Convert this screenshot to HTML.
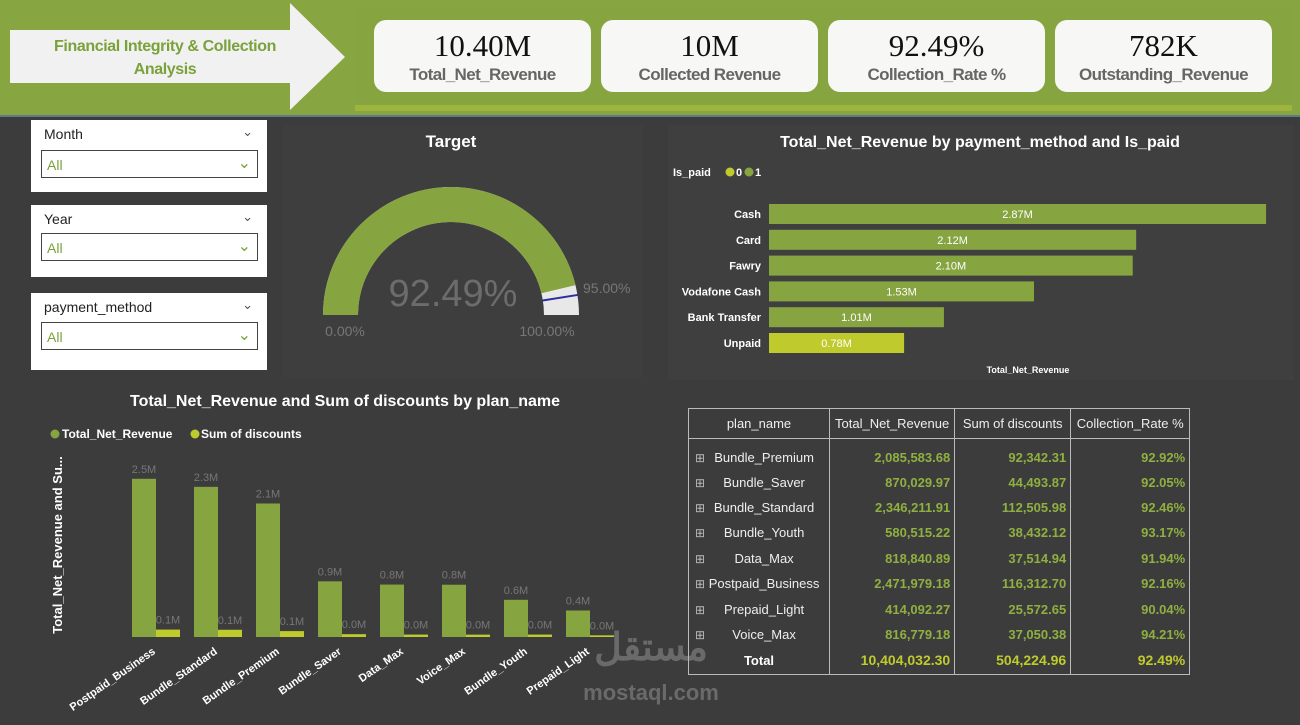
<!DOCTYPE html>
<html><head><meta charset="utf-8">
<style>
*{margin:0;padding:0;box-sizing:border-box}
body{width:1300px;height:725px;overflow:hidden;background:#3d3c3d;font-family:"Liberation Sans",sans-serif;position:relative}
.abs{position:absolute}
.kpi{position:absolute;top:20px;width:217px;height:72px;background:#f7f8f5;border-radius:12px;text-align:center}
.kpi .v{font-family:"Liberation Serif",serif;font-size:31px;color:#111;margin-top:8px;line-height:36px}
.kpi .l{font-size:17px;color:#666;font-weight:bold;line-height:22px;letter-spacing:-0.6px}
.slicer{position:absolute;left:31px;width:236px;background:#fff}
.slicer .t{position:absolute;left:13px;top:6px;font-size:14px;color:#222}
.slicer .c1{position:absolute;right:14px;top:4px;color:#555;font-size:13px}
.slicer .dd{position:absolute;left:10px;width:217px;height:28px;border:1px solid #444;color:#7aa23a;font-size:14px;padding:6px 5px}
.slicer .dd span{position:absolute;right:6px;top:2px;color:#7aa23a;font-size:16px}
table{border-collapse:collapse;position:absolute;left:688px;top:408px;font-size:13px;color:#eee}
td,th{border:1px solid #bbb}
th{font-weight:normal;height:30px;padding:0 5px}
tbody td{height:25.4px}
td.n{text-align:right;color:#8fb040;font-weight:bold;padding-right:4px}
tbody td{border-top:none;border-bottom:none}
</style></head><body>
<div class="abs" style="left:0;top:0;width:1300px;height:117px;background:#87a641;border-bottom:2px solid #5f7a8a"></div>
<div class="abs" style="left:355px;top:8px;width:937px;height:103px;background:#86a43f;border-bottom:6px solid #9db53c"></div>
<svg class="abs" style="left:0;top:0" width="350" height="117">
<polygon points="10,30 290,30 290,3 345,57 290,110 290,83 10,83" fill="#f1f1f1"/>
</svg>
<div class="abs" style="left:15px;top:35px;width:300px;text-align:center;color:#7aa23a;font-weight:bold;font-size:16px;line-height:23px;letter-spacing:-0.4px">Financial Integrity &amp; Collection<br>Analysis</div>

<div class="kpi" style="left:374px"><div class="v">10.40M</div><div class="l">Total_Net_Revenue</div></div>
<div class="kpi" style="left:601px"><div class="v">10M</div><div class="l">Collected Revenue</div></div>
<div class="kpi" style="left:828px"><div class="v">92.49%</div><div class="l">Collection_Rate %</div></div>
<div class="kpi" style="left:1055px"><div class="v">782K</div><div class="l">Outstanding_Revenue</div></div>

<div class="slicer" style="top:120px;height:72px"><div class="t">Month</div><div class="c1">&#8964;</div><div class="dd" style="top:30px">All<span>&#8964;</span></div></div>
<div class="slicer" style="top:205px;height:72px"><div class="t">Year</div><div class="c1">&#8964;</div><div class="dd" style="top:28px">All<span>&#8964;</span></div></div>
<div class="slicer" style="top:293px;height:77px"><div class="t">payment_method</div><div class="c1">&#8964;</div><div class="dd" style="top:29px">All<span>&#8964;</span></div></div>

<div class="abs" style="left:283px;top:125px;width:360px;height:253px;background:#3f3e3f"></div>
<div class="abs" style="left:668px;top:125px;width:626px;height:255px;background:#403f40"></div>
<svg class="abs" id="gauge" style="left:283px;top:125px" width="360" height="255"></svg>
<svg class="abs" id="hbar" style="left:650px;top:120px" width="650" height="265"></svg>
<svg class="abs" id="col" style="left:0;top:385px" width="660" height="340"></svg>

<div class="abs" style="left:566px;top:628px;width:170px;color:#8a8a8a;opacity:.6;font-size:38px;font-weight:bold;text-align:center;line-height:40px">مستقل<br><span style="font-size:22px;line-height:24px">mostaql.com</span></div>

<table>
<thead><tr><th style="width:141px">plan_name</th><th style="width:124px">Total_Net_Revenue</th><th style="width:116px">Sum of discounts</th><th style="width:119px">Collection_Rate %</th></tr></thead>
<tbody id="tb"></tbody>
</table>

<script>
const NS='http://www.w3.org/2000/svg';
function mk(p,tag,a,txt){const e=document.createElementNS(NS,tag);for(const k in a)e.setAttribute(k,a[k]);if(txt!=null)e.textContent=txt;p.appendChild(e);return e;}
// gauge
const gaugeValue=92.49, gaugeTarget=95, gaugeMin=0, gaugeMax=100;
const g=document.getElementById('gauge');
const cx=168,cy=190,R=128,r=93;
function ang(v){return Math.PI*(1-(v-gaugeMin)/(gaugeMax-gaugeMin));}
function arc(v0,v1,fill,name){const a0=ang(v0),a1=ang(v1);
 const d=`M${cx+R*Math.cos(a0)},${cy-R*Math.sin(a0)} A${R},${R} 0 0 1 ${cx+R*Math.cos(a1)},${cy-R*Math.sin(a1)} L${cx+r*Math.cos(a1)},${cy-r*Math.sin(a1)} A${r},${r} 0 0 0 ${cx+r*Math.cos(a0)},${cy-r*Math.sin(a0)} Z`;
 const p=mk(g,'path',{d,fill});}
arc(gaugeMin,gaugeMax,'#e8e8e8','gauge-track');
arc(gaugeMin,gaugeValue,'#86a43f','gauge-value-arc');
const at=ang(gaugeTarget);
const tl=mk(g,'line',{x1:cx+(r-1)*Math.cos(at),y1:cy-(r-1)*Math.sin(at),x2:cx+(R+1)*Math.cos(at),y2:cy-(R+1)*Math.sin(at),stroke:'#2b2fa0','stroke-width':2});

let t=mk(g,'text',{x:cx,y:22,'text-anchor':'middle',fill:'#fff','font-size':17,'font-weight':'bold'},'Target');
t=mk(g,'text',{x:cx+2,y:181,'text-anchor':'middle',fill:'#6c6c6c','font-size':38},gaugeValue.toFixed(2)+'%');
t=mk(g,'text',{x:cx-R+22,y:211,'text-anchor':'middle',fill:'#777','font-size':14},gaugeMin.toFixed(2)+'%');
t=mk(g,'text',{x:cx+R-32,y:211,'text-anchor':'middle',fill:'#777','font-size':14},gaugeMax.toFixed(2)+'%');
t=mk(g,'text',{x:cx+R+4,y:168,fill:'#777','font-size':14},gaugeTarget.toFixed(2)+'%');

// horizontal bar chart
const payMethods=['Cash','Card','Fawry','Vodafone Cash','Bank Transfer','Unpaid'];
const payValues=[2.87,2.12,2.10,1.53,1.01,0.78];
const payPaid=[1,1,1,1,1,0];
const h=document.getElementById('hbar');
const x0=119, pxPerM=173.2;
function xs(v){return x0+v*pxPerM;}
t=mk(h,'text',{x:330,y:27,'text-anchor':'middle',fill:'#fff','font-size':16,'font-weight':'bold'},'Total_Net_Revenue by payment_method and Is_paid');
t=mk(h,'text',{x:23,y:56,fill:'#fff','font-size':11,'font-weight':'bold'},'Is_paid');
let c=mk(h,'circle',{cx:80,cy:52,r:4.5,fill:'#bfcb2c'});
t=mk(h,'text',{x:86,y:56,fill:'#fff','font-size':11,'font-weight':'bold'},'0');
c=mk(h,'circle',{cx:99,cy:52,r:4.5,fill:'#86a43f'});
t=mk(h,'text',{x:105,y:56,fill:'#fff','font-size':11,'font-weight':'bold'},'1');
payMethods.forEach((m,i)=>{
 const y=84+i*25.8;
 const rc=mk(h,'rect',{x:x0,y:y,width:xs(payValues[i])-x0,height:20,fill:payPaid[i]?'#86a43f':'#bfcb2c'});
 
 const l=mk(h,'text',{x:x0-8,y:y+14,'text-anchor':'end',fill:'#fff','font-size':11,'font-weight':'bold'},m);
 
 const v=mk(h,'text',{x:(x0+xs(payValues[i]))/2,y:y+14,'text-anchor':'middle',fill:'#fff','font-size':11},payValues[i].toFixed(2)+'M');
 
});
t=mk(h,'text',{x:378,y:253,'text-anchor':'middle',fill:'#fff','font-size':9,'font-weight':'bold'},'Total_Net_Revenue');

// column chart
const plans=['Postpaid_Business','Bundle_Standard','Bundle_Premium','Bundle_Saver','Data_Max','Voice_Max','Bundle_Youth','Prepaid_Light'];
const revenue=[2.472,2.346,2.086,0.870,0.819,0.817,0.581,0.414];
const discounts=[0.116,0.113,0.092,0.044,0.038,0.037,0.038,0.026];
const col=document.getElementById('col');
const base=252, pxM=64, gx0=132, gstep=62, bw=24;
function ys(v){return base-v*pxM;}
t=mk(col,'text',{x:345,y:21,'text-anchor':'middle',fill:'#fff','font-size':16,'font-weight':'bold'},'Total_Net_Revenue and Sum of discounts by plan_name');
c=mk(col,'circle',{cx:55,cy:49,r:4.5,fill:'#86a43f'});
t=mk(col,'text',{x:62,y:53,fill:'#fff','font-size':12,'font-weight':'bold'},'Total_Net_Revenue');
c=mk(col,'circle',{cx:195,cy:49,r:4.5,fill:'#bfcb2c'});
t=mk(col,'text',{x:201,y:53,fill:'#fff','font-size':12,'font-weight':'bold'},'Sum of discounts');
t=mk(col,'text',{x:0,y:0,transform:'translate(62,160) rotate(-90)','text-anchor':'middle',fill:'#fff','font-size':13,'font-weight':'bold'},'Total_Net_Revenue and Su...');
plans.forEach((p,i)=>{
 const x=gx0+i*gstep;
 const r1=mk(col,'rect',{x:x,y:ys(revenue[i]),width:bw,height:base-ys(revenue[i]),fill:'#86a43f'});
 
 const r2=mk(col,'rect',{x:x+bw,y:ys(discounts[i]),width:bw,height:base-ys(discounts[i]),fill:'#bfcb2c'});
 
 const l1=mk(col,'text',{x:x+bw/2,y:ys(revenue[i])-6,'text-anchor':'middle',fill:'#777','font-size':11},revenue[i].toFixed(1)+'M');
 
 const l2=mk(col,'text',{x:x+bw*1.5,y:ys(discounts[i])-6,'text-anchor':'middle',fill:'#777','font-size':11},discounts[i].toFixed(1)+'M');
 
 const cl=mk(col,'text',{x:0,y:0,transform:`translate(${x+bw},${base+16}) rotate(-35)`,'text-anchor':'end',fill:'#fff','font-size':11,'font-weight':'bold'},p);
 
});

// table
const tPlans=['Bundle_Premium','Bundle_Saver','Bundle_Standard','Bundle_Youth','Data_Max','Postpaid_Business','Prepaid_Light','Voice_Max'];
const tRevenue=['2,085,583.68','870,029.97','2,346,211.91','580,515.22','818,840.89','2,471,979.18','414,092.27','816,779.18'];
const tDisc=['92,342.31','44,493.87','112,505.98','38,432.12','37,514.94','116,312.70','25,572.65','37,050.38'];
const tRate=['92.92%','92.05%','92.46%','93.17%','91.94%','92.16%','90.04%','94.21%'];
const tb=document.getElementById('tb');
tPlans.forEach((p,i)=>{
 const tr=document.createElement('tr');
 
 
 const st=i==0?'height:31px;padding-top:6px;':'';
 tr.innerHTML=`<td style="padding-left:6px;${st}"><span style="color:#bbb;font-size:12px">&#8862;</span><span style="display:inline-block;width:118px;text-align:center">${p}</span></td><td class="n" style="${st}">${tRevenue[i]}</td><td class="n" style="${st}">${tDisc[i]}</td><td class="n" style="${st}">${tRate[i]}</td>`;
 tb.appendChild(tr);
});
const tot=document.createElement('tr');


tot.innerHTML='<td style="text-align:center;font-weight:bold;color:#fff;border-bottom:1px solid #bbb;height:27px">Total</td><td class="n" style="color:#bfcb2c;font-size:14px;border-bottom:1px solid #bbb">10,404,032.30</td><td class="n" style="color:#bfcb2c;font-size:14px;border-bottom:1px solid #bbb">504,224.96</td><td class="n" style="color:#bfcb2c;font-size:14px;border-bottom:1px solid #bbb">92.49%</td>';
tb.appendChild(tot);
</script>
</body></html>
